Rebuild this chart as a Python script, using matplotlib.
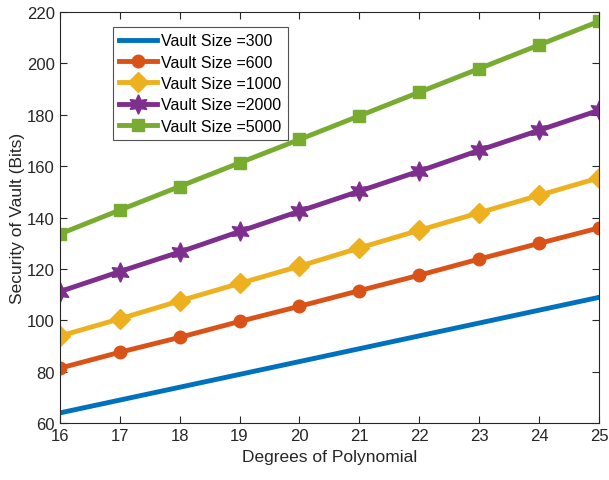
import matplotlib.pyplot as plt

plt.rcParams["font.family"] = ["Liberation Sans", "DejaVu Sans"]

degrees = [16, 17, 18, 19, 20, 21, 22, 23, 24, 25]

vault_300 = [64, 69, 74, 79, 84, 89, 94, 99, 104, 109]
vault_600 = [81.4, 87.6, 93.4, 99.6, 105.5, 111.6, 117.6, 123.9, 130.0, 136.0]
vault_1000 = [93.9, 100.6, 107.6, 114.4, 121.1, 128.2, 135.1, 141.9, 148.7, 155.5]
vault_2000 = [111.2, 119.0, 126.6, 134.6, 142.5, 150.3, 158.1, 166.2, 174.0, 181.8]
vault_5000 = [133.6, 142.9, 152.1, 161.3, 170.4, 179.6, 188.8, 198.0, 207.2, 216.4]

labels = ["Vault Size =300", "Vault Size =600", "Vault Size =1000",
          "Vault Size =2000", "Vault Size =5000"]

colors = ["#0072BD", "#D95319", "#EDB120", "#7E2F8E", "#77AC30"]
markers = [None, "o", "D", (6, 1, 0), "s"]
msizes = [0, 9, 10, 14, 9]

fig = plt.figure(figsize=(6.09, 4.81), dpi=100)
ax = fig.add_axes([0.098, 0.118, 0.886, 0.855])

series = [vault_300, vault_600, vault_1000, vault_2000, vault_5000]
for vals, lab, col, mk, ms in zip(series, labels, colors, markers, msizes):
    ax.plot(degrees, vals, color=col, linewidth=3.5, marker=mk, markersize=ms,
            markerfacecolor=col, markeredgecolor=col, label=lab)

ax.set_xlim(16, 25)
ax.set_ylim(60, 220)
ax.set_xticks(degrees)
ax.set_yticks(range(60, 221, 20))
ax.set_xlabel("Degrees of Polynomial", fontsize=12.5, color="#262626")
ax.set_ylabel("Security of Vault (Bits)", fontsize=12.5, color="#262626",
              labelpad=1)

ax.tick_params(direction="in", top=True, right=True, labelsize=12,
               colors="#262626", length=5, width=0.8)
for sp in ax.spines.values():
    sp.set_color("#262626")
    sp.set_linewidth(0.8)

leg = ax.legend(loc="upper left", bbox_to_anchor=(0.098, 0.964), fontsize=11.5,
                frameon=True, fancybox=False, edgecolor="#262626",
                handlelength=2.4, handletextpad=0.25, labelspacing=0.4,
                borderpad=0.4, borderaxespad=0)
leg.get_frame().set_linewidth(0.8)

fig.savefig("out.png", dpi=100)
